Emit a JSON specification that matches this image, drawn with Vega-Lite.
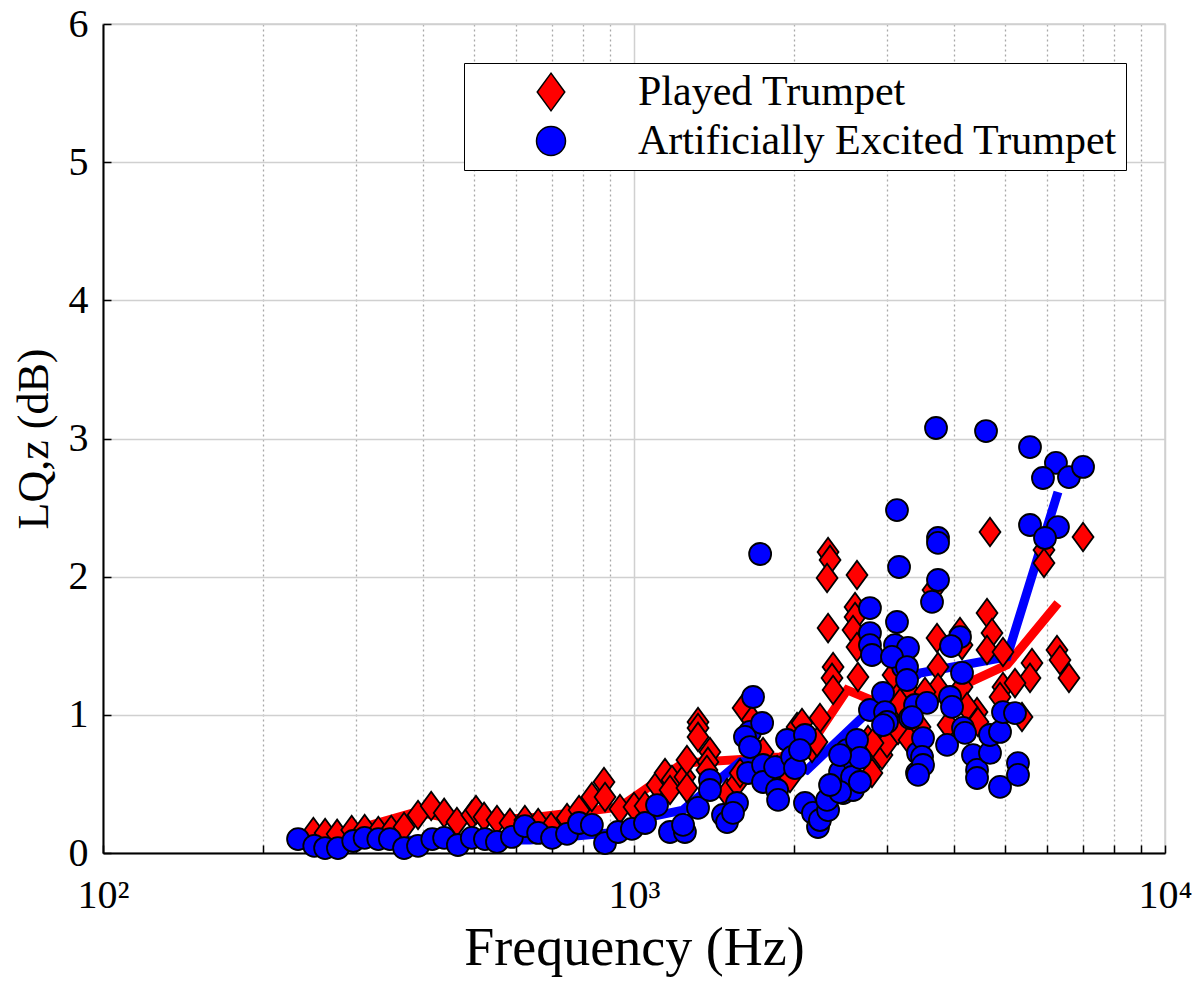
{
"$schema": "https://vega.github.io/schema/vega-lite/v6.json",
"autosize": "none",
"width": 1062,
"height": 829,
"padding": {"left": 103, "top": 24, "right": 35, "bottom": 128},
"background": "white",
"config": {"font": "Liberation Serif", "view": {"stroke": "#cfcfcf", "strokeWidth": 1.5},
  "legend": {"orient": "top-right", "offset": 39, "fillColor": "white", "strokeColor": "black", "padding": 8, "symbolSize": 841, "symbolStrokeColor": "black", "symbolStrokeWidth": 1.5, "symbolOffset": 58, "labelOffset": 66, "labelFontSize": 42, "labelFont": "Liberation Serif", "labelLimit": 800, "rowPadding": 6, "labelColor": "black"}},
"datasets": {
"lines": [
{"f":233,"v":0.123,"s":"Played Trumpet"},{"f":296,"v":0.166,"s":"Played Trumpet"},{"f":390,"v":0.297,"s":"Played Trumpet"},{"f":470,"v":0.239,"s":"Played Trumpet"},{"f":637,"v":0.253,"s":"Played Trumpet"},{"f":791,"v":0.297,"s":"Played Trumpet"},{"f":941,"v":0.333,"s":"Played Trumpet"},{"f":1237,"v":0.651,"s":"Played Trumpet"},{"f":1884,"v":0.695,"s":"Played Trumpet"},{"f":2117,"v":0.745,"s":"Played Trumpet"},{"f":2519,"v":1.18,"s":"Played Trumpet"},{"f":3211,"v":1.013,"s":"Played Trumpet"},{"f":5040,"v":1.361,"s":"Played Trumpet"},{"f":6287,"v":1.809,"s":"Played Trumpet"},
{"f":233,"v":0.058,"s":"Artificially Excited Trumpet"},{"f":390,"v":0.094,"s":"Artificially Excited Trumpet"},{"f":637,"v":0.094,"s":"Artificially Excited Trumpet"},{"f":941,"v":0.152,"s":"Artificially Excited Trumpet"},{"f":1072,"v":0.261,"s":"Artificially Excited Trumpet"},{"f":1237,"v":0.311,"s":"Artificially Excited Trumpet"},{"f":1584,"v":0.659,"s":"Artificially Excited Trumpet"},{"f":1908,"v":0.673,"s":"Artificially Excited Trumpet"},{"f":2117,"v":0.601,"s":"Artificially Excited Trumpet"},{"f":2746,"v":1.013,"s":"Artificially Excited Trumpet"},{"f":3457,"v":1.303,"s":"Artificially Excited Trumpet"},{"f":5040,"v":1.419,"s":"Artificially Excited Trumpet"},{"f":6287,"v":2.613,"s":"Artificially Excited Trumpet"}
],
"pts": [
{"f":249,"v":0.152,"s":"Played Trumpet"},{"f":262,"v":0.145,"s":"Played Trumpet"},{"f":276,"v":0.138,"s":"Played Trumpet"},{"f":294,"v":0.166,"s":"Played Trumpet"},{"f":311,"v":0.174,"s":"Played Trumpet"},{"f":330,"v":0.159,"s":"Played Trumpet"},{"f":349,"v":0.166,"s":"Played Trumpet"},{"f":369,"v":0.188,"s":"Played Trumpet"},{"f":392,"v":0.275,"s":"Played Trumpet"},{"f":415,"v":0.34,"s":"Played Trumpet"},
{"f":439,"v":0.29,"s":"Played Trumpet"},{"f":464,"v":0.224,"s":"Played Trumpet"},{"f":495,"v":0.275,"s":"Played Trumpet"},{"f":504,"v":0.311,"s":"Played Trumpet"},{"f":522,"v":0.261,"s":"Played Trumpet"},{"f":552,"v":0.239,"s":"Played Trumpet"},{"f":584,"v":0.217,"s":"Played Trumpet"},{"f":623,"v":0.239,"s":"Played Trumpet"},{"f":660,"v":0.217,"s":"Played Trumpet"},{"f":698,"v":0.188,"s":"Played Trumpet"},
{"f":748,"v":0.253,"s":"Played Trumpet"},{"f":788,"v":0.311,"s":"Played Trumpet"},{"f":833,"v":0.405,"s":"Played Trumpet"},{"f":878,"v":0.514,"s":"Played Trumpet"},{"f":882,"v":0.405,"s":"Played Trumpet"},{"f":941,"v":0.318,"s":"Played Trumpet"},{"f":1000,"v":0.333,"s":"Played Trumpet"},{"f":1049,"v":0.34,"s":"Played Trumpet"},{"f":1105,"v":0.492,"s":"Played Trumpet"},{"f":1144,"v":0.579,"s":"Played Trumpet"},
{"f":1179,"v":0.528,"s":"Played Trumpet"},{"f":1169,"v":0.456,"s":"Played Trumpet"},{"f":1247,"v":0.55,"s":"Played Trumpet"},{"f":1258,"v":0.673,"s":"Played Trumpet"},{"f":1258,"v":0.47,"s":"Played Trumpet"},{"f":1320,"v":0.948,"s":"Played Trumpet"},{"f":1320,"v":0.905,"s":"Played Trumpet"},{"f":1320,"v":0.84,"s":"Played Trumpet"},{"f":1390,"v":0.731,"s":"Played Trumpet"},{"f":1378,"v":0.659,"s":"Played Trumpet"},
{"f":1372,"v":0.601,"s":"Played Trumpet"},{"f":1497,"v":0.434,"s":"Played Trumpet"},{"f":1563,"v":0.507,"s":"Played Trumpet"},{"f":1584,"v":0.579,"s":"Played Trumpet"},{"f":1605,"v":1.049,"s":"Played Trumpet"},{"f":1669,"v":0.963,"s":"Played Trumpet"},{"f":1750,"v":0.731,"s":"Played Trumpet"},{"f":1860,"v":0.601,"s":"Played Trumpet"},{"f":1967,"v":0.543,"s":"Played Trumpet"},{"f":2028,"v":0.912,"s":"Played Trumpet"},
{"f":2072,"v":0.941,"s":"Played Trumpet"},{"f":2240,"v":0.977,"s":"Played Trumpet"},{"f":2164,"v":0.76,"s":"Played Trumpet"},{"f":2211,"v":0.803,"s":"Played Trumpet"},{"f":2320,"v":2.178,"s":"Played Trumpet"},{"f":2340,"v":2.121,"s":"Played Trumpet"},{"f":2310,"v":1.99,"s":"Played Trumpet"},{"f":2630,"v":2.012,"s":"Played Trumpet"},{"f":2320,"v":1.628,"s":"Played Trumpet"},{"f":2608,"v":1.78,"s":"Played Trumpet"},
{"f":2608,"v":1.708,"s":"Played Trumpet"},{"f":2585,"v":1.614,"s":"Played Trumpet"},{"f":2630,"v":1.491,"s":"Played Trumpet"},{"f":2371,"v":1.346,"s":"Played Trumpet"},{"f":2360,"v":1.267,"s":"Played Trumpet"},{"f":2371,"v":1.18,"s":"Played Trumpet"},{"f":2641,"v":1.274,"s":"Played Trumpet"},{"f":2758,"v":0.818,"s":"Played Trumpet"},{"f":2868,"v":0.767,"s":"Played Trumpet"},{"f":2806,"v":0.651,"s":"Played Trumpet"},
{"f":2931,"v":0.709,"s":"Played Trumpet"},{"f":2996,"v":0.796,"s":"Played Trumpet"},{"f":3128,"v":1.18,"s":"Played Trumpet"},{"f":3075,"v":1.288,"s":"Played Trumpet"},{"f":3310,"v":1.158,"s":"Played Trumpet"},{"f":3169,"v":1.086,"s":"Played Trumpet"},{"f":3310,"v":0.905,"s":"Played Trumpet"},{"f":3142,"v":0.89,"s":"Played Trumpet"},{"f":2806,"v":0.579,"s":"Played Trumpet"},{"f":3737,"v":1.346,"s":"Played Trumpet"},
{"f":3737,"v":1.194,"s":"Played Trumpet"},{"f":3532,"v":1.165,"s":"Played Trumpet"},{"f":3457,"v":0.912,"s":"Played Trumpet"},{"f":3903,"v":0.926,"s":"Played Trumpet"},{"f":4147,"v":1.201,"s":"Played Trumpet"},{"f":4075,"v":1.556,"s":"Played Trumpet"},{"f":3721,"v":1.556,"s":"Played Trumpet"},{"f":4622,"v":1.737,"s":"Played Trumpet"},{"f":4723,"v":1.592,"s":"Played Trumpet"},{"f":4622,"v":1.469,"s":"Played Trumpet"},
{"f":4953,"v":1.455,"s":"Played Trumpet"},{"f":4953,"v":1.201,"s":"Played Trumpet"},{"f":4426,"v":1.02,"s":"Played Trumpet"},{"f":4444,"v":0.948,"s":"Played Trumpet"},{"f":4238,"v":1.057,"s":"Played Trumpet"},{"f":4682,"v":2.323,"s":"Played Trumpet"},{"f":5917,"v":2.193,"s":"Played Trumpet"},{"f":5917,"v":2.099,"s":"Played Trumpet"},{"f":7009,"v":2.287,"s":"Played Trumpet"},{"f":3657,"v":1.903,"s":"Played Trumpet"},
{"f":4111,"v":1.599,"s":"Played Trumpet"},{"f":5617,"v":1.375,"s":"Played Trumpet"},{"f":5569,"v":1.267,"s":"Played Trumpet"},{"f":6260,"v":1.469,"s":"Played Trumpet"},{"f":6594,"v":1.267,"s":"Played Trumpet"},{"f":5218,"v":1.23,"s":"Played Trumpet"},{"f":4890,"v":1.129,"s":"Played Trumpet"},{"f":3296,"v":0.818,"s":"Played Trumpet"},{"f":5379,"v":0.984,"s":"Played Trumpet"},{"f":2819,"v":0.796,"s":"Played Trumpet"},
{"f":4147,"v":1.505,"s":"Played Trumpet"},{"f":6342,"v":1.397,"s":"Played Trumpet"},
{"f":233,"v":0.101,"s":"Artificially Excited Trumpet"},{"f":250,"v":0.051,"s":"Artificially Excited Trumpet"},{"f":262,"v":0.036,"s":"Artificially Excited Trumpet"},{"f":277,"v":0.036,"s":"Artificially Excited Trumpet"},{"f":296,"v":0.087,"s":"Artificially Excited Trumpet"},{"f":311,"v":0.109,"s":"Artificially Excited Trumpet"},{"f":330,"v":0.101,"s":"Artificially Excited Trumpet"},{"f":347,"v":0.101,"s":"Artificially Excited Trumpet"},{"f":369,"v":0.036,"s":"Artificially Excited Trumpet"},{"f":392,"v":0.051,"s":"Artificially Excited Trumpet"},
{"f":417,"v":0.101,"s":"Artificially Excited Trumpet"},{"f":439,"v":0.109,"s":"Artificially Excited Trumpet"},{"f":466,"v":0.058,"s":"Artificially Excited Trumpet"},{"f":495,"v":0.109,"s":"Artificially Excited Trumpet"},{"f":524,"v":0.101,"s":"Artificially Excited Trumpet"},{"f":552,"v":0.08,"s":"Artificially Excited Trumpet"},{"f":589,"v":0.116,"s":"Artificially Excited Trumpet"},{"f":623,"v":0.195,"s":"Artificially Excited Trumpet"},{"f":660,"v":0.145,"s":"Artificially Excited Trumpet"},{"f":701,"v":0.109,"s":"Artificially Excited Trumpet"},
{"f":748,"v":0.138,"s":"Artificially Excited Trumpet"},{"f":788,"v":0.217,"s":"Artificially Excited Trumpet"},{"f":833,"v":0.203,"s":"Artificially Excited Trumpet"},{"f":882,"v":0.072,"s":"Artificially Excited Trumpet"},{"f":933,"v":0.152,"s":"Artificially Excited Trumpet"},{"f":991,"v":0.174,"s":"Artificially Excited Trumpet"},{"f":1049,"v":0.217,"s":"Artificially Excited Trumpet"},{"f":1105,"v":0.347,"s":"Artificially Excited Trumpet"},{"f":1169,"v":0.152,"s":"Artificially Excited Trumpet"},{"f":1247,"v":0.152,"s":"Artificially Excited Trumpet"},
{"f":1237,"v":0.203,"s":"Artificially Excited Trumpet"},{"f":1320,"v":0.326,"s":"Artificially Excited Trumpet"},{"f":1390,"v":0.528,"s":"Artificially Excited Trumpet"},{"f":1390,"v":0.456,"s":"Artificially Excited Trumpet"},{"f":1471,"v":0.275,"s":"Artificially Excited Trumpet"},{"f":1497,"v":0.224,"s":"Artificially Excited Trumpet"},{"f":1563,"v":0.362,"s":"Artificially Excited Trumpet"},{"f":1536,"v":0.29,"s":"Artificially Excited Trumpet"},{"f":1676,"v":1.129,"s":"Artificially Excited Trumpet"},{"f":1654,"v":0.876,"s":"Artificially Excited Trumpet"},
{"f":1618,"v":0.84,"s":"Artificially Excited Trumpet"},{"f":1654,"v":0.767,"s":"Artificially Excited Trumpet"},{"f":1743,"v":0.941,"s":"Artificially Excited Trumpet"},{"f":1640,"v":0.579,"s":"Artificially Excited Trumpet"},{"f":1750,"v":0.637,"s":"Artificially Excited Trumpet"},{"f":1750,"v":0.514,"s":"Artificially Excited Trumpet"},{"f":1844,"v":0.622,"s":"Artificially Excited Trumpet"},{"f":1860,"v":0.456,"s":"Artificially Excited Trumpet"},{"f":1868,"v":0.384,"s":"Artificially Excited Trumpet"},{"f":1942,"v":0.818,"s":"Artificially Excited Trumpet"},
{"f":1985,"v":0.695,"s":"Artificially Excited Trumpet"},{"f":2010,"v":0.615,"s":"Artificially Excited Trumpet"},{"f":1728,"v":2.164,"s":"Artificially Excited Trumpet"},{"f":2099,"v":0.854,"s":"Artificially Excited Trumpet"},{"f":2054,"v":0.745,"s":"Artificially Excited Trumpet"},{"f":2099,"v":0.362,"s":"Artificially Excited Trumpet"},{"f":2173,"v":0.29,"s":"Artificially Excited Trumpet"},{"f":2221,"v":0.188,"s":"Artificially Excited Trumpet"},{"f":2240,"v":0.239,"s":"Artificially Excited Trumpet"},{"f":2320,"v":0.311,"s":"Artificially Excited Trumpet"},
{"f":2310,"v":0.384,"s":"Artificially Excited Trumpet"},{"f":2371,"v":0.492,"s":"Artificially Excited Trumpet"},{"f":2444,"v":0.586,"s":"Artificially Excited Trumpet"},{"f":2519,"v":0.745,"s":"Artificially Excited Trumpet"},{"f":2585,"v":0.673,"s":"Artificially Excited Trumpet"},{"f":2630,"v":0.818,"s":"Artificially Excited Trumpet"},{"f":2476,"v":0.434,"s":"Artificially Excited Trumpet"},{"f":2585,"v":0.456,"s":"Artificially Excited Trumpet"},{"f":2574,"v":0.55,"s":"Artificially Excited Trumpet"},{"f":2664,"v":0.688,"s":"Artificially Excited Trumpet"},
{"f":2782,"v":1.035,"s":"Artificially Excited Trumpet"},{"f":2944,"v":1.158,"s":"Artificially Excited Trumpet"},{"f":2970,"v":1.02,"s":"Artificially Excited Trumpet"},{"f":2996,"v":0.948,"s":"Artificially Excited Trumpet"},{"f":3211,"v":1.346,"s":"Artificially Excited Trumpet"},{"f":3310,"v":0.977,"s":"Artificially Excited Trumpet"},{"f":3383,"v":1.071,"s":"Artificially Excited Trumpet"},{"f":3427,"v":0.724,"s":"Artificially Excited Trumpet"},{"f":3412,"v":0.579,"s":"Artificially Excited Trumpet"},{"f":3156,"v":2.07,"s":"Artificially Excited Trumpet"},
{"f":2782,"v":1.773,"s":"Artificially Excited Trumpet"},{"f":2782,"v":1.592,"s":"Artificially Excited Trumpet"},{"f":2782,"v":1.505,"s":"Artificially Excited Trumpet"},{"f":2806,"v":1.433,"s":"Artificially Excited Trumpet"},{"f":3128,"v":1.672,"s":"Artificially Excited Trumpet"},{"f":3101,"v":1.505,"s":"Artificially Excited Trumpet"},{"f":3281,"v":1.484,"s":"Artificially Excited Trumpet"},{"f":3061,"v":1.419,"s":"Artificially Excited Trumpet"},{"f":3267,"v":1.346,"s":"Artificially Excited Trumpet"},{"f":3267,"v":1.252,"s":"Artificially Excited Trumpet"},
{"f":2944,"v":0.926,"s":"Artificially Excited Trumpet"},{"f":3563,"v":1.086,"s":"Artificially Excited Trumpet"},{"f":3502,"v":0.832,"s":"Artificially Excited Trumpet"},{"f":3487,"v":0.695,"s":"Artificially Excited Trumpet"},{"f":3502,"v":0.637,"s":"Artificially Excited Trumpet"},{"f":3427,"v":0.565,"s":"Artificially Excited Trumpet"},{"f":3887,"v":0.782,"s":"Artificially Excited Trumpet"},{"f":3937,"v":1.129,"s":"Artificially Excited Trumpet"},{"f":3971,"v":1.057,"s":"Artificially Excited Trumpet"},{"f":4147,"v":1.303,"s":"Artificially Excited Trumpet"},
{"f":4111,"v":1.563,"s":"Artificially Excited Trumpet"},{"f":3641,"v":1.817,"s":"Artificially Excited Trumpet"},{"f":4165,"v":0.905,"s":"Artificially Excited Trumpet"},{"f":4201,"v":0.869,"s":"Artificially Excited Trumpet"},{"f":4349,"v":0.709,"s":"Artificially Excited Trumpet"},{"f":4426,"v":0.601,"s":"Artificially Excited Trumpet"},{"f":4682,"v":0.724,"s":"Artificially Excited Trumpet"},{"f":4682,"v":0.854,"s":"Artificially Excited Trumpet"},{"f":4890,"v":0.876,"s":"Artificially Excited Trumpet"},{"f":4953,"v":1.02,"s":"Artificially Excited Trumpet"},
{"f":4890,"v":0.478,"s":"Artificially Excited Trumpet"},{"f":2444,"v":0.709,"s":"Artificially Excited Trumpet"},{"f":2444,"v":0.441,"s":"Artificially Excited Trumpet"},{"f":2340,"v":0.492,"s":"Artificially Excited Trumpet"},{"f":3705,"v":3.076,"s":"Artificially Excited Trumpet"},{"f":4602,"v":3.054,"s":"Artificially Excited Trumpet"},{"f":5569,"v":2.938,"s":"Artificially Excited Trumpet"},{"f":6232,"v":2.823,"s":"Artificially Excited Trumpet"},{"f":5891,"v":2.714,"s":"Artificially Excited Trumpet"},{"f":6594,"v":2.721,"s":"Artificially Excited Trumpet"},
{"f":7009,"v":2.794,"s":"Artificially Excited Trumpet"},{"f":3128,"v":2.482,"s":"Artificially Excited Trumpet"},{"f":3737,"v":2.28,"s":"Artificially Excited Trumpet"},{"f":3737,"v":2.244,"s":"Artificially Excited Trumpet"},{"f":3737,"v":1.976,"s":"Artificially Excited Trumpet"},{"f":5569,"v":2.374,"s":"Artificially Excited Trumpet"},{"f":6287,"v":2.359,"s":"Artificially Excited Trumpet"},{"f":5943,"v":2.28,"s":"Artificially Excited Trumpet"},{"f":3954,"v":1.498,"s":"Artificially Excited Trumpet"},{"f":3339,"v":0.984,"s":"Artificially Excited Trumpet"},
{"f":4426,"v":0.543,"s":"Artificially Excited Trumpet"},{"f":5218,"v":1.013,"s":"Artificially Excited Trumpet"},{"f":5286,"v":0.651,"s":"Artificially Excited Trumpet"},{"f":5286,"v":0.565,"s":"Artificially Excited Trumpet"},{"f":2664,"v":0.514,"s":"Artificially Excited Trumpet"}
]
},
"encoding": {
"x": {"field": "f", "type": "quantitative", "title": "Frequency (Hz)",
  "scale": {"type": "log", "domain": [100, 10000], "nice": false},
  "axis": {
    "values": [100,200,300,400,500,600,700,800,900,1000,2000,3000,4000,5000,6000,7000,8000,9000,10000],
    "labelExpr": "datum.value == 100 ? '10²' : datum.value == 1000 ? '10³' : datum.value == 10000 ? '10⁴' : ''",
    "labelFontSize": 40, "labelColor": "black", "labelFlush": false, "labelOverlap": false, "labelPadding": 30,
    "tickSize": -8, "tickColor": "black", "tickWidth": 1.5,
    "domainColor": "black", "domainWidth": 2,
    "grid": true,
    "gridColor": {"condition": {"test": "datum.value == 100 || datum.value == 1000 || datum.value == 10000", "value": "#d0d0d0"}, "value": "#a8a8a8"},
    "gridDash": {"condition": {"test": "datum.value == 100 || datum.value == 1000 || datum.value == 10000", "value": []}, "value": [2, 3]},
    "gridWidth": {"condition": {"test": "datum.value == 100 || datum.value == 1000 || datum.value == 10000", "value": 1.5}, "value": 1.3},
    "titleFontSize": 54, "titleFontWeight": "normal", "titleColor": "black", "titlePadding": 6
  }},
"y": {"field": "v", "type": "quantitative", "title": "LQ,z (dB)",
  "scale": {"domain": [0, 6], "nice": false},
  "axis": {
    "values": [0,1,2,3,4,5,6],
    "labelFontSize": 40, "labelColor": "black", "labelPadding": 23,
    "tickSize": -8, "tickColor": "black", "tickWidth": 1.5,
    "domainColor": "black", "domainWidth": 2,
    "grid": true, "gridColor": "#d0d0d0", "gridWidth": 1.5,
    "titleFontSize": 44, "titleFontWeight": "normal", "titleColor": "black", "titlePadding": 12
  }}
},
"layer": [
{"data": {"name": "lines"},
 "transform": [{"filter": "datum.s == 'Played Trumpet'"}],
 "mark": {"type": "line", "strokeWidth": 9, "color": "#ff0000"},
 "encoding": {}},
{"data": {"name": "lines"},
 "transform": [{"filter": "datum.s == 'Artificially Excited Trumpet'"}],
 "mark": {"type": "line", "strokeWidth": 9, "color": "#0000ff"},
 "encoding": {}},
{"data": {"name": "pts"},
 "mark": {"type": "point", "filled": true, "opacity": 1, "stroke": "black", "strokeWidth": 1.8, "size": 484},
 "encoding": {
   "color": {"field": "s", "type": "nominal", "title": null,
     "scale": {"domain": ["Played Trumpet", "Artificially Excited Trumpet"], "range": ["#ff0000", "#0000ff"]}},
   "shape": {"field": "s", "type": "nominal", "title": null,
     "scale": {"domain": ["Played Trumpet", "Artificially Excited Trumpet"], "range": ["M0,-1.3L0.95,0L0,1.3L-0.95,0Z", "circle"]}}
 }}
]
}
